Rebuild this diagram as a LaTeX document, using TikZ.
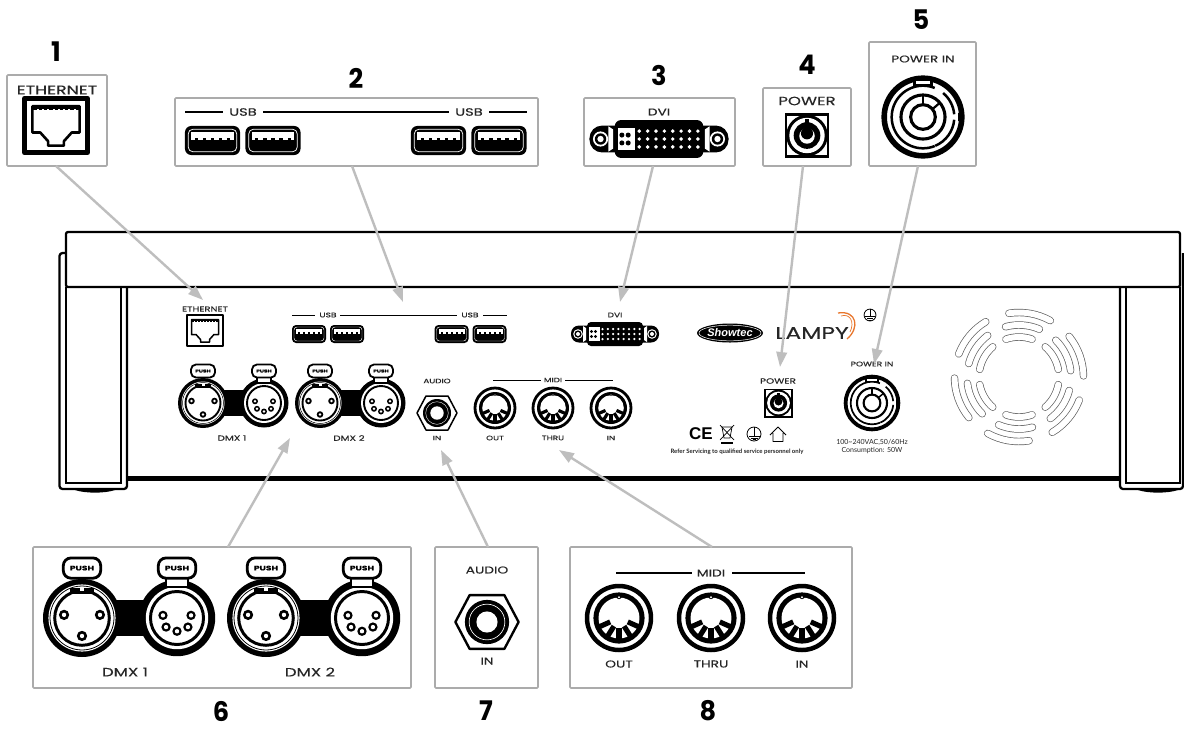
\documentclass[tikz,border=0pt]{standalone}
\usepackage{fontspec}
\setmainfont{Liberation Sans}
\newfontfamily\labf[FakeStretch=1.38,FakeBold=.2]{Poppins}
\newfontfamily\numf[FakeStretch=.95]{Poppins}
\newfontfamily\fineF{Lato}
\usetikzlibrary{arrows.meta}
\definecolor{arrowgray}{HTML}{BEBEBE}
\definecolor{boxgray}{HTML}{ABABAB}
\definecolor{fangray}{HTML}{5E5E5E}
\definecolor{lampyorange}{HTML}{E8762C}
\tikzset{
  conn/.style={draw=arrowgray,line width=2.4pt,-{Triangle[length=15pt,width=10.5pt]}},
  panelbox/.style={draw=boxgray,line width=1.7pt,fill=white,rounded corners=1pt,inner sep=0pt,outer sep=0pt},
  lab/.style={font=\labf\fontsize{#1}{#1}\selectfont,inner sep=0pt,text=black!85},
  fine/.style={font=\fineF\fontsize{#1}{#1}\selectfont,inner sep=0pt,text=black!85},
  numlab/.style={font=\numf\bfseries\fontsize{27}{27}\selectfont,inner sep=0pt},
  frameline/.style={line width=2.3pt,draw=black,rounded corners=2pt,line join=round},
  fanslot/.style={draw=fangray,double=white,double distance=6pt,line width=.7pt,line cap=round}
}
% name, x1,y1,x2,y2
\newcommand{\panelnode}[5]{\node[panelbox,minimum width={(#4-#2)*1pt},minimum height={(#5-#3)*1pt}] (#1) at ({(#2+#4)/2},{(#3+#5)/2}) {};}
% RJ45
\newcommand{\rjport}[3]{\begin{scope}[shift={(#1,#2)},scale=#3]\def\ks{#3}
  \draw[line width=\ks*2.8pt,fill=white,line join=round] (-18,-15.5) rectangle (18,15.5);
  \draw[line width=\ks*1.5pt,line join=round] (-13.5,-11) -- (13.5,-11) -- (13.5,4) -- (9,4) -- (4.5,9) -- (4.5,11.5) -- (-4.5,11.5) -- (-4.5,9) -- (-9,4) -- (-13.5,4) -- cycle;
  \fill (-13.5,-11) rectangle (13.5,-8.6);
  \foreach \a in {-11,-8,-5,-2,1,4,7,10} \fill[white] (\a,-9.3) rectangle (\a+1.2,-8.6);
\end{scope}}
% USB
\newcommand{\usbport}[3]{\begin{scope}[shift={(#1,#2)},scale=#3]\def\ks{#3}
  \pgfmathsetlengthmacro{\rra}{\ks*4pt}\pgfmathsetlengthmacro{\rrb}{\ks*3pt}
  \fill[rounded corners=\rra] (-17,-9) rectangle (17,9);
  \draw[white,line width=\ks*.45pt,rounded corners=\rrb] (-15,-7) rectangle (15,7);
  \fill[white] (-13,-5.5) rectangle (13,-.5);
  \foreach \a in {-10,-5,0,5,10} \fill (\a-1,-1.6) rectangle (\a+1,-.5);
\end{scope}}
% DVI
\newcommand{\dviport}[3]{\begin{scope}[shift={(#1,#2)},scale=#3]\def\ks{#3}
  \pgfmathsetlengthmacro{\rra}{\ks*8pt}\pgfmathsetlengthmacro{\rrb}{\ks*4pt}
  \fill[rounded corners=\rra] (-44,-8.5) rectangle (44,8.5);
  \fill[white] (-32,-8) -- (-29,-6) -- (-29,6) -- (-32,8) -- cycle (32,-8) -- (29,-6) -- (29,6) -- (32,8) -- cycle;
  \foreach \s in {-1,1}{\fill[white] (\s*37,0) circle[radius=4.8]; \fill (\s*37,0) circle[radius=3.6]; \fill[white] (\s*37,0) circle[radius=2];}
  \fill[rounded corners=\rrb] (-28,-12) rectangle (28,12);
  \fill[white] (-26,-7) rectangle (-15,7);
  \foreach \a in {-23.5,-19.5}\foreach \b in {-2.5,2.5}\fill (\a,\b) circle[radius=1.6];
  \foreach \b in {-5,0,5}\foreach \a in {0,...,7}\fill[white] (-12.5+\a*5.3,\b) circle[radius=1.25];
\end{scope}}
% barrel power
\newcommand{\barrelport}[3]{\begin{scope}[shift={(#1,#2)},scale=#3]\def\ks{#3}
  \fill (-14.5,-14.5) rectangle (14.5,14.5);
  \fill[white] (-12.8,-12.8) rectangle (12.8,12.8);
  \fill (0,0) circle[radius=13.4];
  \fill[white] (0,0) circle[radius=11.4];
  \fill (0,0) circle[radius=8.6];
  \fill (-1.6,-10.5) rectangle (1.6,-4);
  \fill[white] (0,.3) circle[radius=5];
  \fill (0,-1.4) circle[radius=3.9];
  \fill (-1.3,-5) rectangle (1.3,0);
\end{scope}}
% powercon
\newcommand{\powerconport}[3]{\begin{scope}[shift={(#1,#2)},scale=#3]\def\ks{#3}
  \draw[line width=\ks*3.8pt,fill=white] (0,0) circle[radius=26.4];
  \draw[line width=\ks*1.7pt] (-68:21.3) arc[start angle=-68,end angle=-292,radius=21.3];
  \draw[line width=\ks*1.7pt] (-5:21.3) arc[start angle=-5,end angle=-50,radius=21.3];
  \draw[line width=\ks*1.7pt] (5:21.3) arc[start angle=5,end angle=67,radius=21.3];
  \fill (-7,-25.5) rectangle (7,-21);
  \fill[white] (-5,-24.5) rectangle (5,-22.4);
  \draw[line width=\ks*2.1pt] (0,0) circle[radius=15];
  \draw[line width=\ks*2.1pt] (0,0) circle[radius=8.4];
  \draw[line width=\ks*1.5pt] (-40:8.4) -- (-40:15);
  \draw[line width=\ks*1.5pt] (0,-8.4) -- (0,-15);
  \fill (24,-3) rectangle (26,3);
\end{scope}}
% XLR male
\newcommand{\xlrmale}[4]{\begin{scope}[name prefix=#1-,shift={(#2,#3)},scale=#4]\def\ks{#4}
  \pgfmathsetlengthmacro{\rra}{\ks*5pt}
  \fill (0,0) circle[radius=25];
  \fill[white] (0,0) circle[radius=21.5];
  \draw[line width=\ks*.5pt] (0,0) circle[radius=20.5];
  \draw[line width=\ks*1.9pt] (0,0) circle[radius=17.5];
  \fill (-8,-19.5) rectangle (8,-15.5);
  \fill[white] (-1.5,-19.5) rectangle (1.5,-17.5);
  \foreach \a/\b in {-11.5/-2,11.5/-2,0/11.5}{\fill (\a,\b) circle[radius=3.3]; \fill[white] (\a,\b) circle[radius=1.4];}
  \draw[line width=\ks*1.8pt,fill=white,rounded corners=\rra] (-12,-38.5) rectangle (12,-25.5);
  \node[transform shape,font=\labf\bfseries\fontsize{4.2}{4.2}\selectfont,inner sep=0pt] (push) at (0,-32) {PUSH};
\end{scope}}
% XLR female
\newcommand{\xlrfemale}[4]{\begin{scope}[name prefix=#1-,shift={(#2,#3)},scale=#4]\def\ks{#4}
  \pgfmathsetlengthmacro{\rra}{\ks*5pt}
  \fill (0,0) circle[radius=24.5];
  \fill[white] (0,0) circle[radius=20];
  \draw[line width=\ks*1.9pt] (0,0) circle[radius=17];
  \fill[white] (-7,-26) rectangle (7,-19);
  \draw[line width=\ks*1.6pt] (-7,-26) -- (-7,-20) -- (7,-20) -- (7,-26);
  \foreach \a/\b in {-9/-1.7,9/-1.7,-7/5.8,0/8.5,7/5.8}{\fill (\a,\b) circle[radius=3]; \fill[white] (\a,\b) circle[radius=1.4];}
  \draw[line width=\ks*1.8pt,fill=white,rounded corners=\rra] (-12,-38.5) rectangle (12,-25.5);
  \node[transform shape,font=\labf\bfseries\fontsize{4.2}{4.2}\selectfont,inner sep=0pt] (push) at (0,-32) {PUSH};
\end{scope}}
% MIDI
\newcommand{\midiport}[3]{\begin{scope}[shift={(#1,#2)},scale=#3]\def\ks{#3}
  \draw[line width=\ks*2.8pt,fill=white] (0,0) circle[radius=20];
  \fill (0,0) circle[radius=16];
  \fill[white] (0,0) circle[radius=12.8];
  \foreach \ang in {90,58,122,24,156}\draw[line width=\ks*3.2pt] (\ang:6) -- (\ang:14);
  \fill (0,-13.5) circle[radius=1.7];
  \fill[white] (0,-13) circle[radius=.7];
\end{scope}}
% Jack
\newcommand{\jackport}[3]{\begin{scope}[shift={(#1,#2)},scale=#3]\def\ks{#3}
  \draw[line width=\ks*1.5pt,fill=white,line join=round] (-20,0) -- (-11,-17) -- (11,-17) -- (20,0) -- (11,17) -- (-11,17) -- cycle;
  \fill (0,0) circle[radius=14];
  \draw[white,line width=\ks*.4pt] (0,0) circle[radius=11.3];
  \fill[white] (0,0) circle[radius=6.7];
\end{scope}}
% earth symbol
\newcommand{\earthsym}[3]{\begin{scope}[shift={(#1,#2)},scale=#3]
  \draw[line width=.8pt] (0,0) circle[radius=7];
  \draw[line width=.8pt] (0,-7) -- (0,2);
  \draw[line width=.8pt] (-5.5,2) -- (5.5,2) (-3.5,4) -- (3.5,4);
  \draw[line width=.8pt] (-1.5,5.8) -- (1.5,5.8);
\end{scope}}

\begin{document}
\begin{tikzpicture}[x=1pt,y=-1pt]
\useasboundingbox (0,0) rectangle (1184,729);
\fill[white] (0,0) rectangle (1184,729);

% ---------- device frame
\draw[frameline,fill=white] (66,287) -- (66,232) -- (1180,232) -- (1180,287) -- cycle;
\draw[frameline,rounded corners=3pt] (66,253) -- (59.5,253) -- (59.5,489) -- (127,489) -- (127,287);
\draw[line width=2.3pt] (66,287) -- (66,483) -- (121,483) -- (121,287);
\draw[frameline,rounded corners=3pt] (1120,287) -- (1120,489) -- (1183,489) -- (1183,253);
\draw[line width=2.3pt] (1126,287) -- (1126,483) -- (1180,483) -- (1180,287);
\draw[line width=5pt] (127,478) -- (1120,478);
\fill (75,490) .. controls (85,493.5) and (105,493.5) .. (115,490) -- cycle;
\fill (1138,490) .. controls (1148,493.5) and (1168,493.5) .. (1178,490) -- cycle;

% ---------- fan
\begin{scope}[shift={(1019,377)},yscale=-1]
  \foreach \k in {0,...,5}{
    \pgfmathsetmacro{\ca}{80-60*\k}\pgfmathsetmacro{\cb}{86-60*\k}\pgfmathsetmacro{\cc}{90-60*\k}
    \draw[fanslot] (\ca+19:64.5) arc[start angle=\ca+19,end angle=\ca-19,radius=64.5];
    \draw[fanslot] (\cb+19:52) arc[start angle=\cb+19,end angle=\cb-19,radius=52];
    \draw[fanslot] (\cc+19:40) arc[start angle=\cc+19,end angle=\cc-19,radius=40];
  }
\end{scope}

% ---------- small panel
\node[lab=7.2] (sEth) at (205,309) {ETHERNET};
\rjport{205}{330.5}{1}
\draw[line width=.9pt] (292,315) -- (315,315) (340,315) -- (457,315) (483,315) -- (507,315);
\node[lab=6.6] (sUsbA) at (328,315) {USB};
\node[lab=6.6] (sUsbB) at (470,315) {USB};
\usbport{309}{334}{1}\usbport{347}{334}{1}\usbport{451.5}{334}{1}\usbport{489.5}{334}{1}
\node[lab=6.6] (sDvi) at (615,315) {DVI};
\dviport{615}{334}{1}

\fill (203,390) rectangle (264,416);
\fill (320,390) rectangle (381,416);
\xlrmale{s1}{203}{403}{1}\xlrfemale{s2}{264}{403}{1}
\xlrmale{s3}{320}{403}{1}\xlrfemale{s4}{381}{403}{1}
\node[lab=7.5] (sDmxA) at (232,438) {DMX 1};
\node[lab=7.5] (sDmxB) at (349,438) {DMX 2};

\node[lab=6.4] (sAudio) at (437,381) {AUDIO};
\jackport{437}{413}{1}
\node[lab=6.4] (sIn) at (437,438) {IN};

\draw[line width=.9pt] (493,380) -- (541,380) (565,380) -- (613,380);
\node[lab=6.4] (sMidi) at (553,380) {MIDI};
\midiport{495}{408}{1}\midiport{553}{408}{1}\midiport{611}{408}{1}
\node[lab=6.4] (sOut) at (495,438) {OUT};
\node[lab=6.4] (sThru) at (553,438) {THRU};
\node[lab=6.4] (sMidiIn) at (611,438) {IN};

% logos
\fill (730,333) ellipse[x radius=33,y radius=9.5];
\draw[white,line width=.5pt] (730,333) ellipse[x radius=31,y radius=7.8];
\node[font=\bfseries\itshape\fontsize{11}{11}\selectfont,text=white,inner sep=0pt] (showtec) at (730,333) {Showtec};
\node[font=\labf\fontsize{17}{17}\selectfont,inner sep=0pt,text=black!85] (lampy) at (812,333) {LAMPY};
\draw[lampyorange,line width=1.3pt] (847,339) .. controls (860,328) and (857,310) .. (838,313);
\draw[lampyorange,line width=.7pt] (850,332) .. controls (855,322) and (850,313) .. (841,316);
\earthsym{870}{315}{.85}

% power section
\node[lab=7.5] (sPower) at (778,381) {POWER};
\barrelport{778.5}{403}{1}
\node[font=\bfseries\fontsize{17}{17}\selectfont,inner sep=0pt] (ce) at (701,434) {CE};
\draw[line width=.7pt] (722,427) -- (732,427) -- (730,438) -- (724,438) -- cycle;
\draw[line width=.7pt] (720,425) -- (734,440) (734,425) -- (720,440);
\fill (721,441.5) rectangle (733,444);
\earthsym{754}{434}{1}
\draw[line width=.9pt,line join=round] (770,435) -- (778,427) -- (786,435) (773,433) -- (773,441.5) -- (783,441.5) -- (783,433);
\node[fine=6,font=\fineF\bfseries\fontsize{6}{6}\selectfont] (refer) at (737,452) {Refer Servicing to qualified service personnel only};
\node[lab=6.6] (sPowerIn) at (872,364) {POWER IN};
\powerconport{872}{403}{1}
\node[fine=7] (volt) at (872,442) {100\textasciitilde 240VAC,50/60Hz};
\node[fine=7] (cons) at (872,451) {Consumption: 50W};

% ---------- arrows
\panelnode{box1}{7}{75}{107}{166}
\panelnode{box2}{175}{98}{538}{166}
\panelnode{box3}{584}{98}{735}{166}
\panelnode{box4}{763}{88}{851}{166}
\panelnode{box5}{869}{42}{976}{166}
\panelnode{box6}{33}{547}{411}{688}
\panelnode{box7}{435}{547}{538}{688}
\panelnode{box8}{570}{547}{852}{688}
\coordinate (tip1) at (203,300);
\coordinate (tip2) at (403,302);
\coordinate (tip3) at (620,302);
\coordinate (tip4) at (780,367);
\coordinate (tip5) at (874,364);
\coordinate (tip6) at (290,438);
\coordinate (tip7) at (441,450);
\coordinate (tip8) at (559,450);
\draw[conn] ([xshift=-1]box1.south) -- (tip1);
\draw[conn] ([xshift=-4.5]box2.south) -- (tip2);
\draw[conn] ([xshift=-6.5]box3.south) -- (tip3);
\draw[conn] ([xshift=-4]box4.south) -- (tip4);
\draw[conn] ([xshift=-4.5]box5.south) -- (tip5);
\draw[conn] ([xshift=6]box6.north) -- (tip6);
\draw[conn] ([xshift=1.5]box7.north) -- (tip7);
\draw[conn] ([xshift=1]box8.north) -- (tip8);

% ---------- enlarged panels
\node[lab=12.6] (lEth) at (57,90) {ETHERNET};
\rjport{56}{125.5}{1.75}
\draw[line width=1.3pt] (185,112) -- (223,112) (263,112) -- (449,112) (489,112) -- (527,112);
\node[lab=10.6] (lUsbA) at (243,112) {USB};
\node[lab=10.6] (lUsbB) at (469,112) {USB};
\usbport{212.5}{140.5}{1.62}\usbport{273}{140.5}{1.62}\usbport{438.5}{140.5}{1.62}\usbport{499}{140.5}{1.62}

\node[lab=10] (lDvi) at (659,112) {DVI};
\dviport{659}{139}{1.58}

\node[lab=12] (lPower) at (807,101) {POWER};
\barrelport{807}{135.5}{1.55}

\node[lab=9.8] (lPowerIn) at (923,59) {POWER IN};
\powerconport{923}{117}{1.47}

\fill (82,600) rectangle (177,636);
\fill (266,600) rectangle (362,636);
\xlrmale{l1}{82}{618}{1.56}\xlrfemale{l2}{177}{618}{1.56}
\xlrmale{l3}{266}{618}{1.56}\xlrfemale{l4}{362}{618}{1.56}
\node[lab=12] (lDmxA) at (125,672) {DMX 1};
\node[lab=12] (lDmxB) at (310,672) {DMX 2};

\node[lab=10] (lAudio) at (487,570) {AUDIO};
\jackport{487}{622}{1.58}
\node[lab=10] (lIn) at (487,661) {IN};

\draw[line width=1.3pt] (616,573) -- (692,573) (732,573) -- (805,573);
\node[lab=10] (lMidi) at (711,573) {MIDI};
\midiport{619}{618}{1.6}\midiport{711}{618}{1.6}\midiport{802}{618}{1.6}
\node[lab=10] (lOut) at (619,664) {OUT};
\node[lab=10] (lThru) at (711,664) {THRU};
\node[lab=10] (lMidiIn) at (802,664) {IN};

% ---------- numbers
\node[numlab] (n1) at (56,52) {1};
\node[numlab] (n2) at (356,78) {2};
\node[numlab] (n3) at (659,75) {3};
\node[numlab] (n4) at (807,65) {4};
\node[numlab] (n5) at (921,20) {5};
\node[numlab] (n6) at (221,711) {6};
\node[numlab] (n7) at (486,711) {7};
\node[numlab] (n8) at (708,711) {8};
\end{tikzpicture}
\end{document}
